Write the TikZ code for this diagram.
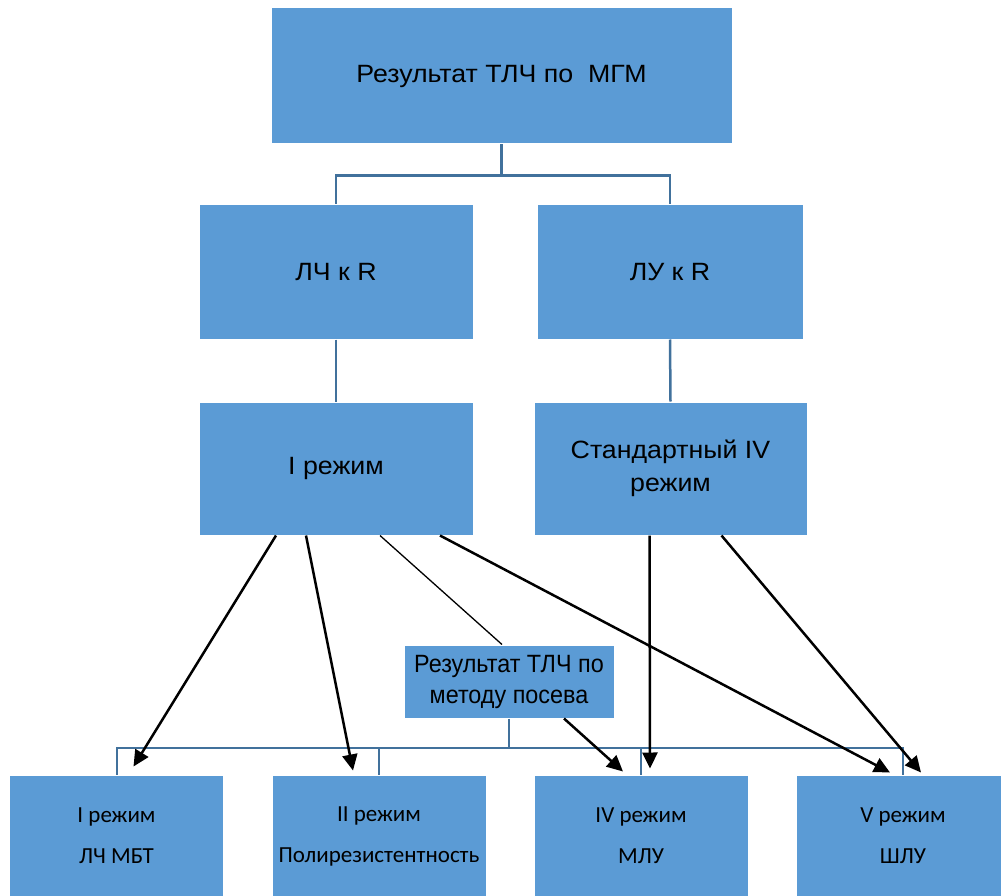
\documentclass[tikz,border=0pt]{standalone}
\usepackage{fontspec}
\setmainfont[FakeStretch=1.07]{Liberation Sans}
\newfontfamily\calfont{Carlito}
\newfontfamily\narrowfont[FakeStretch=0.935]{Liberation Sans}
\usetikzlibrary{arrows.meta}

\definecolor{boxblue}{HTML}{5B9BD5}
\definecolor{lineblue}{HTML}{41719C}

\begin{document}
\begin{tikzpicture}[x=1pt,y=-1pt]
  \tikzstyle{bx}=[
    draw=white, fill=boxblue, rectangle,
    line width=1pt,
    align=center,
    inner sep=0pt,
    font=\fontsize{25}{33}\selectfont
  ]
  \tikzstyle{mid}=[bx,
    minimum width=274pt,
    minimum height=134pt
  ]
  \tikzstyle{low}=[bx,
    minimum width=214pt,
    minimum height=122pt,
    font=\calfont\fontsize{23}{41}\selectfont
  ]
  \tikzstyle{conn}=[draw=lineblue, line width=2.5pt]
  \tikzstyle{arr}=[draw=black, line width=2.5pt,
    -{Triangle[length=16pt,width=15pt]}
  ]

  \clip (0,0) rectangle (1001,896);

  \node[bx, minimum width=461pt, minimum height=136pt] (mgm) at (501.5,76) {Результат ТЛЧ по\ \ МГМ};

  \node[mid] (lchr) at (336,272) {ЛЧ к R};
  \node[mid, minimum width=266pt] (lur) at (670,272) {ЛУ к R};

  \node[mid, minimum height=133pt] (rez1) at (336,468.5) {I режим};
  \node[mid, minimum width=273pt, minimum height=133pt] (std4) at (670.5,468.5) {Стандартный IV\\режим};

  \node[bx, minimum width=210pt, minimum height=73pt,
    font=\narrowfont\fontsize{25}{31}\selectfont] (posev) at (509,681.5) {Результат ТЛЧ по\\методу посева};

  \node[low] (r1) at (116.5,836) {I режим\\ЛЧ МБТ};
  \node[low] (r2) at (379,836) {II режим\\Полирезистентность};
  \node[low] (r4) at (641,836) {IV режим\\МЛУ};
  \node[low] (r5) at (903,836) {V режим\\ШЛУ};

  % tree lines
  \draw[conn] (mgm.south) -- ++(0,31) coordinate (topbus);
  \draw[conn] (topbus) -| (lchr.north);
  \draw[conn] (topbus) -| (lur.north);
  \draw[conn] (lchr.south) -- (rez1.north);
  \draw[conn] (lur.south) -- (std4.north);
  \draw[conn, line width=2pt] (posev.south) -- ++(0,29) coordinate (lowbus);
  \draw[conn, line width=2pt] (lowbus) -| (r1.north);
  \draw[conn, line width=2pt] (lowbus) -| (r2.north);
  \draw[conn, line width=2pt] (lowbus) -| (r4.north);
  \draw[conn, line width=2pt] (lowbus) -| (r5.north);

  % arrows
  \draw[arr] ([xshift=-60pt]rez1.south) -- ([xshift=17pt,yshift=8pt]r1.north);
  \draw[arr] ([xshift=-30pt]rez1.south) -- ([xshift=-26pt,yshift=4pt]r2.north);
  \draw[line width=1.3pt] ([xshift=44pt]rez1.south) -- ([xshift=-7pt]posev.north);
  \draw[arr] ([xshift=104pt]rez1.south) -- ([xshift=-13pt,yshift=2pt]r5.north);
  \draw[arr] ([xshift=-21pt]std4.south) -- ([xshift=9pt,yshift=6pt]r4.north);
  \draw[arr] ([xshift=51pt]std4.south) -- ([xshift=18pt,yshift=2pt]r5.north);
  \draw[arr] ([xshift=55pt]posev.south) -- ([xshift=-18pt,yshift=3pt]r4.north);

\end{tikzpicture}
\end{document}
